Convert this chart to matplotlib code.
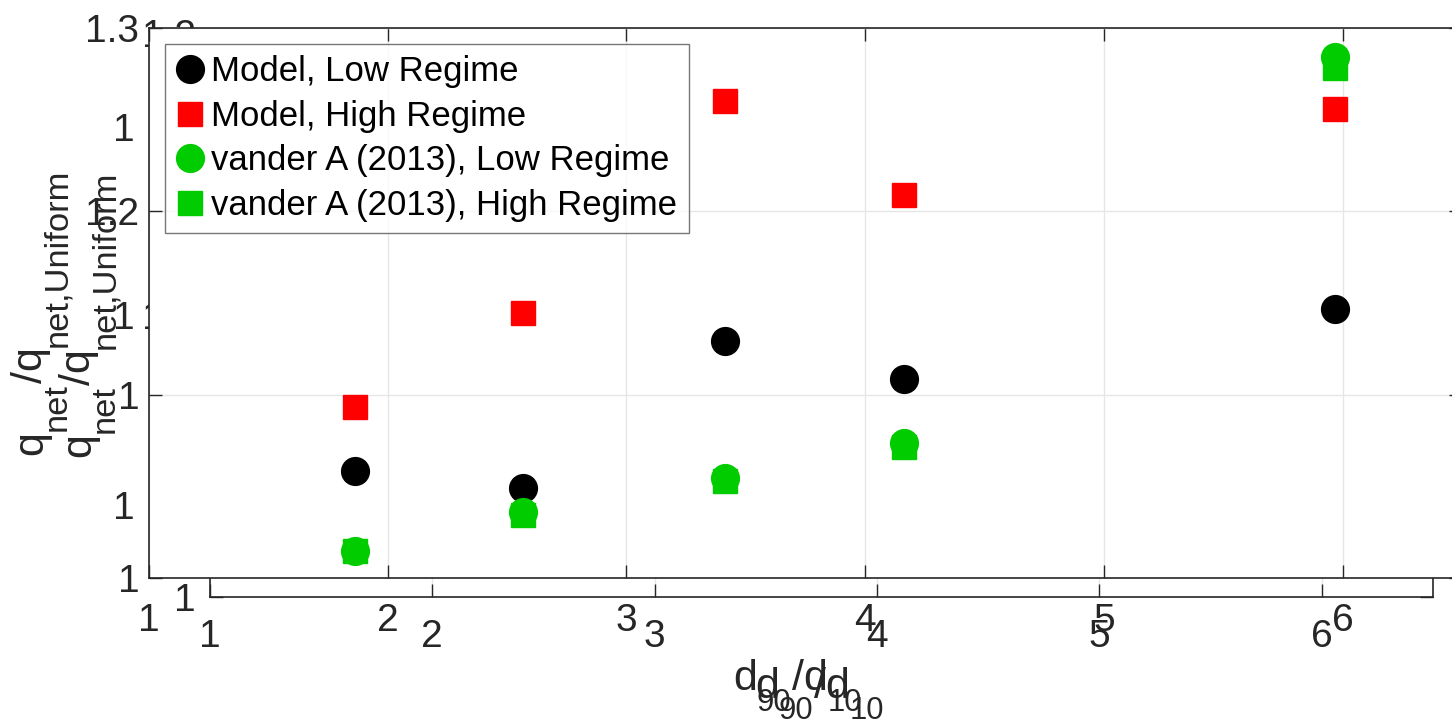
import matplotlib
matplotlib.use("Agg")
import matplotlib.pyplot as plt
from matplotlib.ticker import FixedLocator, FixedFormatter
from matplotlib.transforms import Affine2D

plt.rcParams['font.family'] = ['Liberation Sans', 'DejaVu Sans']

# Grain-size spread and normalised net transport
d_ratio = [1.865, 2.565, 3.411, 4.161, 5.966]
model_low = [1.0584, 1.0491, 1.1293, 1.1085, 1.1467]
model_high = [1.0933, 1.1445, 1.2602, 1.2089, 1.2558]
vdA_low = [1.0147, 1.0360, 1.0545, 1.0736, 1.2842]
vdA_high = [1.0147, 1.0344, 1.0529, 1.0715, 1.2782]

series_labels = ["Model, Low Regime", "Model, High Regime",
                 "vander A (2013), Low Regime", "vander A (2013), High Regime"]

x_ticks = [1, 2, 3, 4, 5, 6]
x_ticklabels = ["1", "2", "3", "4", "5", "6"]
y_ticks = [1.0, 1.1, 1.2, 1.3]
y_ticklabels = ["1", "1", "1.2", "1.3"]
y_ticks_back = [1.0, 1.1, 1.2]
y_ticklabels_back = ["1", "1.1", "1.2"]
y_ticks_extra = [1.0398, 1.1435, 1.246]
y_ticklabels_extra = ["1", "1", "1"]

# Axis titles as (text, is_subscript) pieces
xlabel_parts = [("d", False), ("90", True), ("/d", False), ("10", True)]
ylabel_parts = [("q", False), ("net", True), ("/q", False), ("net,Uniform", True)]

W, H = 1452, 723
fig = plt.figure(figsize=(W / 100, H / 100), dpi=100)
fig.patch.set_facecolor('white')
pix = Affine2D().scale(1, -1).translate(0, H)  # top-left pixel coordinates

def rect(l, t, r, b):
    return [l / W, 1 - b / H, (r - l) / W, (b - t) / H]

spine_c = '#262626'
grid_c = '#e6e6e6'
tick_fs = 28
label_fs = 31

def style(ax):
    for s in ax.spines.values():
        s.set_color(spine_c)
        s.set_linewidth(1.2)
    ax.tick_params(direction='in', length=9.5, width=1.0, colors=spine_c,
                   labelcolor='#262626', top=True, right=True, labelsize=tick_fs)
    ax.grid(True, color=grid_c, linewidth=1.0)
    ax.set_axisbelow(True)

renderer = fig.canvas.get_renderer()

def text_width(s, size):
    t = fig.text(0, 0, s, fontsize=size)
    w = t.get_window_extent(renderer).width
    t.remove()
    return w

def draw_label(parts, x0, y0, vertical=False, size=label_fs, sub_scale=0.75, drop=0.5):
    """Write pieces one after another from a baseline start point (pixels)."""
    em = size * 100 / 72
    pos = 0.0
    for s, sub in parts:
        fs = size * sub_scale if sub else size
        off = drop * em if sub else 0.0
        if vertical:
            fig.text(x0 + off, y0 - pos, s, fontsize=fs, color='#262626',
                     rotation=90, rotation_mode='anchor', ha='left', va='baseline',
                     transform=pix)
        else:
            fig.text(x0 + pos, y0 + off, s, fontsize=fs, color='#262626',
                     ha='left', va='baseline', transform=pix)
        pos += text_width(s, fs)

# Back axes
ax2 = fig.add_axes(rect(210, 33, 1433, 597))
style(ax2)
ax2.set_xlim(1, 6.5)
ax2.set_ylim(1.0, 1.2)
ax2.xaxis.set_major_locator(FixedLocator(x_ticks))
ax2.xaxis.set_major_formatter(FixedFormatter(x_ticklabels))
ax2.yaxis.set_major_locator(FixedLocator(y_ticks_back))
ax2.yaxis.set_major_formatter(FixedFormatter(y_ticklabels_back))
ax2.tick_params(axis='x', pad=16)
ax2.tick_params(axis='y', pad=10)

# Front axes with the data
ax = fig.add_axes(rect(149, 28, 1462, 578))
ax.set_facecolor('white')
style(ax)
ax.set_xlim(1, 6.5)
ax.set_ylim(1.0, 1.3)
ax.xaxis.set_major_locator(FixedLocator(x_ticks))
ax.xaxis.set_major_formatter(FixedFormatter(x_ticklabels))
ax.yaxis.set_major_locator(FixedLocator(y_ticks))
ax.yaxis.set_major_formatter(FixedFormatter(y_ticklabels))
ax.tick_params(axis='x', pad=18)
ax.tick_params(axis='y', pad=7)

h1, = ax.plot(d_ratio, model_low, 'o', color='black', ms=20, ls='none', label=series_labels[0])
h2, = ax.plot(d_ratio, model_high, 's', color='#ff0000', ms=17, ls='none', label=series_labels[1])
h3, = ax.plot(d_ratio, vdA_low, 'o', color='#00cc00', ms=20, ls='none', label=series_labels[2])
h4, = ax.plot(d_ratio, vdA_high, 's', color='#00cc00', ms=17, ls='none', label=series_labels[3])

leg = ax.legend(handles=[h1, h2, h3, h4], loc='upper left',
                bbox_to_anchor=(165 / W, 1 - 44 / H), bbox_transform=fig.transFigure,
                fontsize=25, frameon=True, fancybox=False, borderpad=0.33,
                handlelength=0.8, handletextpad=0.2, labelspacing=0.33,
                borderaxespad=0, numpoints=1)
leg.get_frame().set_edgecolor('#555555')
leg.get_frame().set_linewidth(1.0)

# Overlay carrying an additional set of left labels
ax3 = fig.add_axes(rect(149, 28, 1462, 578))
ax3.patch.set_visible(False)
for s in ax3.spines.values():
    s.set_visible(False)
ax3.set_xticks([])
ax3.set_ylim(1.0, 1.3)
ax3.yaxis.set_major_locator(FixedLocator(y_ticks_extra))
ax3.yaxis.set_major_formatter(FixedFormatter(y_ticklabels_extra))
ax3.tick_params(axis='y', length=0, pad=10, labelsize=tick_fs, labelcolor='#262626')

# Axis titles
draw_label(xlabel_parts, 733, 690, sub_scale=0.72, drop=0.48)
draw_label(xlabel_parts, 755, 698, sub_scale=0.72, drop=0.48)
draw_label(ylabel_parts, 42, 455, vertical=True, sub_scale=0.8, drop=0.56)
draw_label(ylabel_parts, 90, 457, vertical=True, sub_scale=0.8, drop=0.56)

fig.savefig("out.png", dpi=100, facecolor='white')
